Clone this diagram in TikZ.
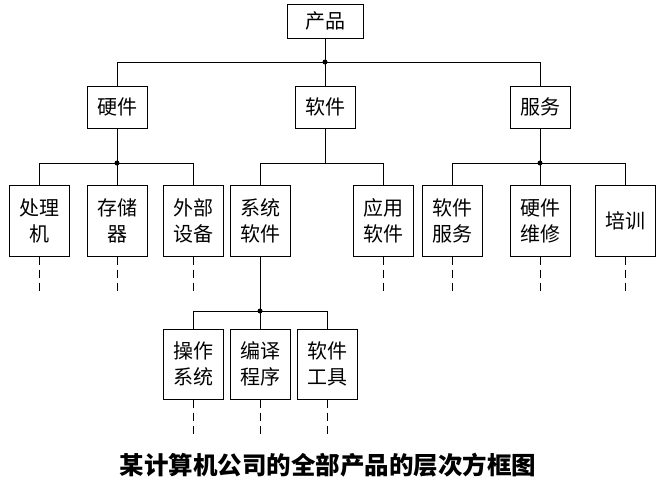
\documentclass[tikz,border=0pt]{standalone}
\usepackage{fontspec}
\newfontfamily\cjk{Noto Sans CJK SC}
\usetikzlibrary{positioning}
\tikzset{
  box/.style={draw, line width=1pt, minimum width=60pt, inner sep=0pt, align=center,
    font=\cjk\fontsize{20}{26}\selectfont},
  lvone/.style={box, minimum width=76pt, minimum height=34pt},
  lvtwo/.style={box, minimum height=42pt},
  lvthree/.style={box, minimum height=71pt},
  conn/.style={line width=0.9pt},
  dashconn/.style={line width=0.9pt, dash pattern=on 8pt off 5pt},
  dot/.style={circle, fill, inner sep=0pt, minimum size=5pt}
}
\begin{document}
\begin{tikzpicture}[x=1pt,y=-1pt]
\useasboundingbox (0,0) rectangle (663,483);
% level 1
\node[lvone] (prod) at (325,21) {产品};
% level 2
\node[lvtwo] (hw) at (117,107) {硬件};
\node[lvtwo] (sw) at (325,107) {软件};
\node[lvtwo] (sv) at (540,107) {服务};
% level 3
\node[lvthree] (cpu) at (39,220.5) {处理\\机};
\node[lvthree] (mem) at (117,220.5) {存储\\器};
\node[lvthree] (ext) at (193,220.5) {外部\\设备};
\node[lvthree] (sys) at (260,220.5) {系统\\软件};
\node[lvthree] (app) at (383,220.5) {应用\\软件};
\node[lvthree] (sws) at (452,220.5) {软件\\服务};
\node[lvthree] (hwr) at (540,220.5) {硬件\\维修};
\node[lvthree] (trn) at (625,220.5) {培训};
% level 4
\node[lvthree, minimum height=70pt] (os) at (193,364) {操作\\系统};
\node[lvthree, minimum height=70pt] (cmp) at (260,364) {编译\\程序};
\node[lvthree, minimum height=70pt] (tool) at (327,364) {软件\\工具};
% junctions
\node[dot] (j1) at (325,62) {};
\node[dot] (j2) at (117,163) {};
\coordinate (j3) at (325,163);
\node[dot] (j4) at (540,163) {};
\node[dot] (j5) at (260,311) {};
% connectors
\draw[conn] (prod) -- (j1.center);
\draw[conn] (j1.center) -| (hw);
\draw[conn] (j1.center) -- (sw);
\draw[conn] (j1.center) -| (sv);
\draw[conn] (hw) -- (j2.center);
\draw[conn] (j2.center) -| (cpu);
\draw[conn] (j2.center) -- (mem);
\draw[conn] (j2.center) -| (ext);
\draw[conn] (sw) -- (j3);
\draw[conn] (j3) -| (sys);
\draw[conn] (j3) -| (app);
\draw[conn] (sv) -- (j4.center);
\draw[conn] (j4.center) -| (sws);
\draw[conn] (j4.center) -- (hwr);
\draw[conn] (j4.center) -| (trn);
\draw[conn] (sys) -- (j5.center);
\draw[conn] (j5.center) -| (os);
\draw[conn] (j5.center) -- (cmp);
\draw[conn] (j5.center) -| (tool);
% dashed continuations
\foreach \n in {cpu,mem,ext,app,sws,hwr,trn,os,cmp,tool}{
  \coordinate (\n-e) at ([yshift=-34pt]\n.south);
  \draw[dashconn] (\n.south) -- (\n-e);
}
% caption
\node[font=\cjk\bfseries\fontsize{24.5}{28}\selectfont] (cap) at (328,465) {某计算机公司的全部产品的层次方框图};
\end{tikzpicture}
\end{document}
